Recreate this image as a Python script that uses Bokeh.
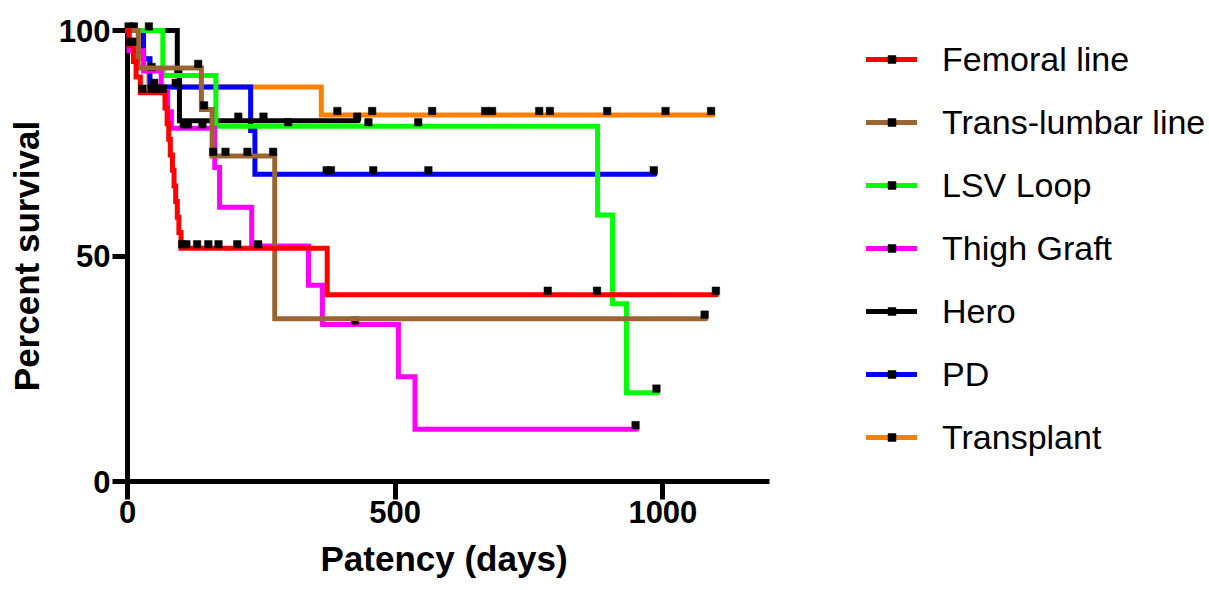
from bokeh.plotting import figure
from bokeh.models import Range1d, Legend, LegendItem, FixedTicker, Title
from bokeh.embed import file_html
from bokeh.resources import INLINE

# ---------------- data ----------------
series_names = ["Femoral line", "Trans-lumbar line", "LSV Loop", "Thigh Graft",
                "Hero", "PD", "Transplant"]
series_colors = ["#FF0000", "#996633", "#00FF00", "#FF00FF", "#000000", "#0000FF", "#FF8000"]

femoral_t = [0, 3, 11, 16, 24, 70, 74, 77, 80, 84, 87, 90, 93, 96, 100, 373, 1100]
femoral_s = [100, 96.6, 93.1, 89.7, 86.2, 82.8, 79.3, 75.9, 72.4, 69.0, 65.5, 62.1,
             58.6, 55.2, 51.7, 41.4, 41.4]
femoral_censor = [5, 9, 28, 45, 52, 60, 66, 102, 110, 130, 151, 170, 205, 244, 785, 877, 1099]

translumbar_t = [0, 20, 138, 158, 275, 1080]
translumbar_s = [100, 91.7, 82.5, 72.2, 36.1, 36.1]
translumbar_censor = [132, 143, 160, 183, 224, 272, 1078]

lsv_t = [0, 66, 165, 878, 906, 932, 990]
lsv_s = [100, 90.0, 78.75, 59.1, 39.4, 19.7, 19.7]
lsv_censor = [40, 300, 450, 543, 988]

thigh_t = [0, 3, 30, 63, 75, 82, 163, 172, 232, 338, 364, 506, 537, 951]
thigh_s = [100, 95.5, 91.0, 86.5, 82.0, 78.3, 69.6, 60.8, 52.2, 43.5, 34.8, 23.2, 11.6, 11.6]
thigh_censor = [45, 105, 113, 140, 425, 949]

hero_t = [0, 93, 97, 431]
hero_s = [100, 90.0, 80.0, 80.0]
hero_censor = [2, 12, 95, 207, 254, 429]

pd_t = [0, 30, 42, 230, 238, 985]
pd_s = [100, 93.75, 87.5, 77.8, 68.1, 68.1]
pd_censor = [50, 90, 372, 380, 459, 562, 983]

transplant_t = [0, 27, 40, 362, 1093]
transplant_s = [100, 93.75, 87.5, 81.25, 81.25]
transplant_censor = [392, 457, 569, 668, 681, 769, 789, 896, 1005, 1090]

x_ticks = [0, 500, 1000]
y_ticks = [0, 50, 100]
x_axis_end = 1200
x_title = "Patency (days)"
y_title = "Percent survival"

series_data = [
    (femoral_t, femoral_s, femoral_censor),
    (translumbar_t, translumbar_s, translumbar_censor),
    (lsv_t, lsv_s, lsv_censor),
    (thigh_t, thigh_s, thigh_censor),
    (hero_t, hero_s, hero_censor),
    (pd_t, pd_s, pd_censor),
    (transplant_t, transplant_s, transplant_censor),
]
# drawing order, bottom to top (indices into the lists above)
draw_order = [6, 5, 4, 2, 3, 1, 0]


def surv_at(times, surv, t):
    v = surv[0]
    for ti, si in zip(times, surv):
        if ti <= t:
            v = si
    return v


# ---------------- figure ----------------
FONT = "Liberation Sans"
# the frame spans the whole width so that the legend can sit inside it;
# the x axis itself is bounded to 0..1200
p = figure(width=1209, height=590, output_backend="svg", toolbar_location=None,
           x_range=Range1d(0, 2021), y_range=Range1d(0, 100),
           min_border_left=127, min_border_right=0, min_border_top=30, min_border_bottom=109)
p.outline_line_color = None
p.xgrid.visible = False
p.ygrid.visible = False
p.background_fill_color = "white"
p.border_fill_color = "white"

tick_offset = 0.9  # censor tick sits on top of the line (data units ~ 4 px)

renderers = {}
for idx in draw_order:
    t, s, c = series_data[idx]
    col = series_colors[idx]
    ln = p.step(t, s, mode="after", line_width=5, line_color=col,
                line_join="miter", line_cap="round", level="overlay")
    cy = [surv_at(t, s, ct) + tick_offset for ct in c]
    sc = p.scatter(c, cy, marker="square", size=7.5, fill_color="black",
                   line_color="black", line_width=0.5, level="overlay")
    renderers[idx] = (ln, sc)

items = [LegendItem(label=series_names[i], renderers=list(renderers[i]))
         for i in range(len(series_names))]
legend = Legend(items=items, location=(739, 24), glyph_width=51, glyph_height=20,
                label_standoff=25, label_height=40, spacing=23,
                padding=0, margin=0, border_line_alpha=0, background_fill_alpha=0,
                label_text_font=FONT, label_text_font_size="34px", label_text_color="black")
p.add_layout(legend)

# ---------------- axes ----------------
p.xaxis.bounds = (0, x_axis_end)
p.yaxis.bounds = (0, 100)
p.xaxis.ticker = FixedTicker(ticks=x_ticks)
p.yaxis.ticker = FixedTicker(ticks=y_ticks)
for ax in (p.xaxis[0], p.yaxis[0]):
    ax.axis_line_width = 5
    ax.axis_line_color = "black"
    ax.major_tick_line_width = 5
    ax.major_tick_line_color = "black"
    ax.major_tick_in = 0
    ax.minor_tick_line_color = None
    ax.major_label_text_font = FONT
    ax.major_label_text_font_style = "bold"
    ax.major_label_text_font_size = "31px"
    ax.major_label_text_color = "black"
    ax.axis_label_text_font = FONT
    ax.axis_label_text_font_style = "bold"
    ax.axis_label_text_font_size = "35px"
    ax.axis_label_text_color = "black"

p.xaxis.major_tick_out = 18
p.xaxis.major_label_standoff = 1

p.yaxis.major_tick_out = 15
p.yaxis.major_label_standoff = 2
p.yaxis.axis_label = y_title
p.yaxis.axis_label_standoff = 10

# x-axis title, placed under the bounded (0..1200) part of the axis
p.add_layout(Title(text=x_title, align="left", offset=193, standoff=22,
                   text_font=FONT, text_font_style="bold", text_font_size="35px",
                   text_color="black"), "below")

open("out.html", "w").write(file_html(p, INLINE))
